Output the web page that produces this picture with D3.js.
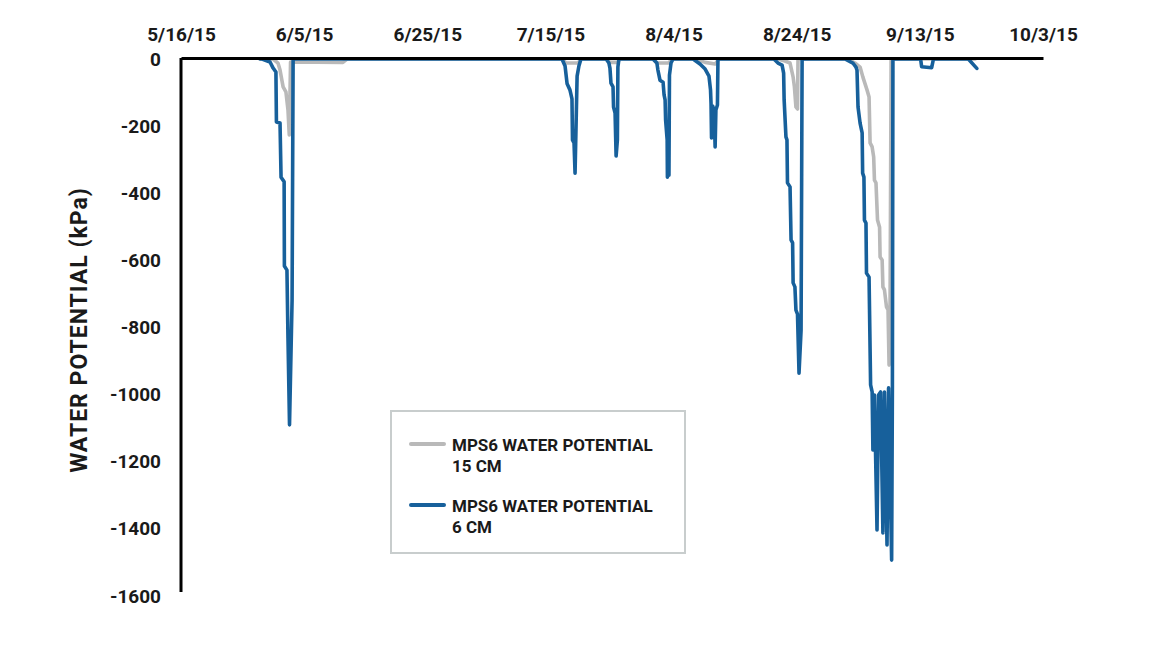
<!DOCTYPE html>
<html>
<head>
<meta charset="utf-8">
<script src="https://cdn.jsdelivr.net/npm/d3@7"></script>
<style>
  body { margin: 0; background: #fff; }
  svg { display: block; font-family: Roboto, "Open Sans", sans-serif; }
</style>
</head>
<body>
<svg id="chart"></svg>
<script>
// MPS6 water potential at 15 cm (gray)
const dates15 = [
  "2015-05-28 20:00", "2015-05-30 23:00", "2015-05-31 18:00", "2015-06-01 02:00", "2015-06-01 14:00",
  "2015-06-02 01:00", "2015-06-02 09:00", "2015-06-02 14:00", "2015-06-02 19:00", "2015-06-11 07:00",
  "2015-06-11 23:00", "2015-07-16 21:00", "2015-07-17 13:00", "2015-07-19 12:00", "2015-07-19 23:00",
  "2015-07-24 01:00", "2015-07-24 16:00", "2015-07-25 23:00", "2015-07-26 05:00", "2015-07-31 16:00",
  "2015-08-01 07:00", "2015-08-03 04:00", "2015-08-03 20:00", "2015-08-07 12:00", "2015-08-09 03:00",
  "2015-08-10 18:00", "2015-08-11 09:00", "2015-08-20 23:00", "2015-08-22 02:00", "2015-08-22 22:00",
  "2015-08-23 10:00", "2015-08-23 15:00", "2015-08-23 21:00", "2015-08-24 03:00", "2015-08-24 05:00",
  "2015-08-24 09:00", "2015-09-01 08:00", "2015-09-02 11:00", "2015-09-03 07:00", "2015-09-03 18:00",
  "2015-09-04 10:00", "2015-09-04 18:00", "2015-09-04 22:00", "2015-09-05 06:00", "2015-09-05 12:00",
  "2015-09-05 15:00", "2015-09-05 21:00", "2015-09-06 03:00", "2015-09-06 11:00", "2015-09-06 13:00",
  "2015-09-06 21:00", "2015-09-07 00:00", "2015-09-07 06:00", "2015-09-07 14:00", "2015-09-07 20:00",
  "2015-09-08 00:00", "2015-09-08 04:00", "2015-09-08 08:00", "2015-09-08 11:00", "2015-09-22 00:00"
];
const values15 = [
  0, 0, -12, -33, -83,
  -98, -152, -226, -9, -10,
  0, 0, -12, -12, 0,
  0, -10, -10, 0, 0,
  -12, -12, 0, 0, -10,
  -15, 0, 0, -6, -12,
  -54, -83, -143, -149, -3,
  0, 0, -12, -24, -54,
  -92, -113, -250, -262, -292,
  -361, -369, -480, -501, -590,
  -599, -679, -688, -739, -748,
  -912, -718, -3, 0, 0
];

// MPS6 water potential at 6 cm (blue)
const dates6 = [
  "2015-05-28 20:00", "2015-05-29 04:00", "2015-05-30 11:00", "2015-05-30 23:00", "2015-05-31 10:00",
  "2015-05-31 12:00", "2015-06-01 02:00", "2015-06-01 06:00", "2015-06-01 18:00", "2015-06-01 19:00",
  "2015-06-02 05:00", "2015-06-02 09:00", "2015-06-02 15:00", "2015-06-03 01:00", "2015-06-03 05:00",
  "2015-07-16 21:00", "2015-07-17 09:00", "2015-07-17 17:00", "2015-07-18 04:00", "2015-07-18 12:00",
  "2015-07-18 14:00", "2015-07-18 20:00", "2015-07-19 00:00", "2015-07-19 06:00", "2015-07-19 08:00",
  "2015-07-19 15:00", "2015-07-19 23:00",
  "2015-07-24 01:00", "2015-07-24 12:00", "2015-07-24 16:00", "2015-07-24 20:00", "2015-07-25 04:00",
  "2015-07-25 06:00", "2015-07-25 12:00", "2015-07-25 16:00", "2015-07-25 21:00", "2015-07-25 23:00",
  "2015-07-26 03:00",
  "2015-07-31 16:00", "2015-08-01 07:00", "2015-08-01 11:00", "2015-08-01 19:00", "2015-08-02 07:00",
  "2015-08-02 11:00", "2015-08-02 15:00", "2015-08-02 17:00", "2015-08-02 23:00", "2015-08-03 00:00",
  "2015-08-03 04:00", "2015-08-03 06:00", "2015-08-03 08:00", "2015-08-03 14:00", "2015-08-03 22:00",
  "2015-08-07 04:00", "2015-08-08 07:00", "2015-08-09 03:00", "2015-08-09 18:00", "2015-08-10 00:00",
  "2015-08-10 02:00", "2015-08-10 04:00", "2015-08-10 08:00", "2015-08-10 14:00", "2015-08-10 18:00",
  "2015-08-10 21:00", "2015-08-11 03:00", "2015-08-11 05:00", "2015-08-11 09:00",
  "2015-08-20 07:00", "2015-08-20 23:00", "2015-08-21 15:00", "2015-08-21 21:00", "2015-08-21 23:00",
  "2015-08-22 06:00", "2015-08-22 10:00", "2015-08-22 12:00", "2015-08-22 22:00", "2015-08-23 02:00",
  "2015-08-23 08:00", "2015-08-23 10:00", "2015-08-23 17:00", "2015-08-23 21:00", "2015-08-24 03:00",
  "2015-08-24 09:00", "2015-08-24 17:00", "2015-08-24 21:00", "2015-08-25 00:00",
  "2015-08-31 20:00", "2015-09-02 03:00", "2015-09-02 15:00", "2015-09-02 19:00", "2015-09-02 23:00",
  "2015-09-03 07:00", "2015-09-03 15:00", "2015-09-03 17:00", "2015-09-03 22:00", "2015-09-04 00:00",
  "2015-09-04 06:00", "2015-09-04 08:00", "2015-09-04 18:00", "2015-09-05 00:00", "2015-09-05 06:00",
  "2015-09-05 09:00", "2015-09-05 15:00", "2015-09-06 01:00", "2015-09-06 07:00", "2015-09-06 15:00",
  "2015-09-07 00:00", "2015-09-07 06:00", "2015-09-07 16:00", "2015-09-07 22:00", "2015-09-08 10:00",
  "2015-09-08 13:00", "2015-09-08 15:00", "2015-09-08 19:00",
  "2015-09-13 03:00", "2015-09-13 07:00", "2015-09-14 22:00", "2015-09-15 05:00", "2015-09-20 21:00",
  "2015-09-22 06:00"
];
const values6 = [
  0, 0, -9, -27, -39,
  -188, -191, -352, -366, -617,
  -629, -831, -1090, -718, 0,
  0, -21, -74, -92, -119,
  -241, -250, -340, -122, -51,
  -21, 0,
  0, -12, -27, -72, -83,
  -143, -161, -289, -241, -24,
  0,
  0, -12, -33, -63, -69,
  -107, -122, -182, -241, -352,
  -316, -346, -48, -12, 0,
  0, -15, -30, -51, -92,
  -131, -235, -140, -152, -262,
  -152, -137, -3, 0,
  0, -12, -18, -42, -122,
  -232, -241, -369, -381, -539,
  -548, -667, -679, -748, -760,
  -936, -808, -3, 0,
  0, -12, -24, -33, -143,
  -191, -220, -340, -352, -480,
  -489, -638, -650, -971, -992,
  -1165, -1001, -1403, -1001, -992,
  -1412, -992, -1448, -980, -1493,
  -971, -3, 0,
  0, -23, -26, 0, 0,
  -28
];

const xTicks = ["5/16/15", "6/5/15", "6/25/15", "7/15/15", "8/4/15", "8/24/15", "9/13/15", "10/3/15"];
const yTicks = [0, -200, -400, -600, -800, -1000, -1200, -1400, -1600];
const legendLabels = [["MPS6 WATER POTENTIAL", "15 CM"], ["MPS6 WATER POTENTIAL", "6 CM"]];
const seriesColors = ["#b9b9b9", "#17609b"];

const W = 1155, H = 649;
const plot = { left: 181, right: 1043, top: 59, bottom: 596 };
const FONT = "Roboto, 'Open Sans', sans-serif";

const parseTime = d3.timeParse("%Y-%m-%d %H:%M");
const parseTick = d3.timeParse("%m/%d/%y");

const svg = d3.select("#chart").attr("width", W).attr("height", H);

const x = d3.scaleTime()
  .domain([parseTick(xTicks[0]), parseTick(xTicks[xTicks.length - 1])])
  .range([plot.left, plot.right]);

const y = d3.scaleLinear()
  .domain([0, -1600])
  .range([plot.top, plot.bottom]);

const series = [
  dates15.map((d, i) => ({ t: parseTime(d), v: values15[i] })),
  dates6.map((d, i) => ({ t: parseTime(d), v: values6[i] }))
];

const line = d3.line().x(d => x(d.t)).y(d => y(d.v));

svg.selectAll(".series")
  .data(series)
  .enter()
  .append("path")
  .attr("class", "series")
  .attr("d", line)
  .attr("fill", "none")
  .attr("stroke", (d, i) => seriesColors[i])
  .attr("stroke-width", 3.6)
  .attr("stroke-linejoin", "round")
  .attr("stroke-linecap", "round");

// top axis
const xAxis = d3.axisTop(x)
  .tickValues(xTicks.map(parseTick))
  .tickFormat((d, i) => xTicks[i])
  .tickSize(0)
  .tickPadding(17);

const gx = svg.append("g")
  .attr("transform", "translate(0," + (plot.top - 1) + ")")
  .call(xAxis)
  .attr("font-family", FONT)
  .attr("font-size", 19);
gx.select(".domain").attr("stroke", "#000").attr("stroke-width", 3);
gx.selectAll("text")
  .attr("fill", "#1a1a1a")
  .style("font-weight", "bold");

const yAxis = d3.axisLeft(y)
  .tickValues(yTicks)
  .tickFormat(d3.format("d"))
  .tickSize(0)
  .tickPadding(20);

const gy = svg.append("g")
  .attr("transform", "translate(" + plot.left + ",0)")
  .call(yAxis)
  .attr("font-family", FONT)
  .attr("font-size", 19);
gy.select(".domain").attr("stroke", "#000").attr("stroke-width", 3)
  .attr("d", "M0," + (plot.top - 1) + "V" + (plot.bottom - 4));
gy.selectAll("text")
  .attr("fill", "#1a1a1a")
  .style("font-weight", "bold")
  .text(d => d === 0 ? "0" : "-" + Math.abs(d));

// y title
svg.append("text")
  .attr("transform", "translate(87,330) rotate(-90)")
  .attr("text-anchor", "middle")
  .attr("fill", "#1a1a1a")
  .style("font-size", "23px")
  .style("font-weight", "bold")
  .style("letter-spacing", "1px")
  .text("WATER POTENTIAL (kPa)");

// legend
const lg = svg.append("g").attr("transform", "translate(391,411)");
lg.append("rect")
  .attr("width", 294)
  .attr("height", 142)
  .attr("fill", "#fff")
  .attr("stroke", "#c8cdcd")
  .attr("stroke-width", 2);

const item = lg.selectAll(".item")
  .data(legendLabels)
  .enter()
  .append("g")
  .attr("class", "item")
  .attr("transform", (d, i) => "translate(0," + (33 + i * 61) + ")");

item.append("line")
  .attr("x1", 20).attr("x2", 53)
  .attr("stroke", (d, i) => seriesColors[i])
  .attr("stroke-width", 4)
  .attr("stroke-linecap", "round");

item.append("text")
  .attr("x", 61)
  .attr("y", 7)
  .attr("fill", "#1a1a1a")
  .style("font-size", "17px")
  .style("font-weight", "bold")
  .text(d => d[0]);

item.append("text")
  .attr("x", 61)
  .attr("y", 28)
  .attr("fill", "#1a1a1a")
  .style("font-size", "17px")
  .style("font-weight", "bold")
  .text(d => d[1]);
</script>
</body>
</html>
